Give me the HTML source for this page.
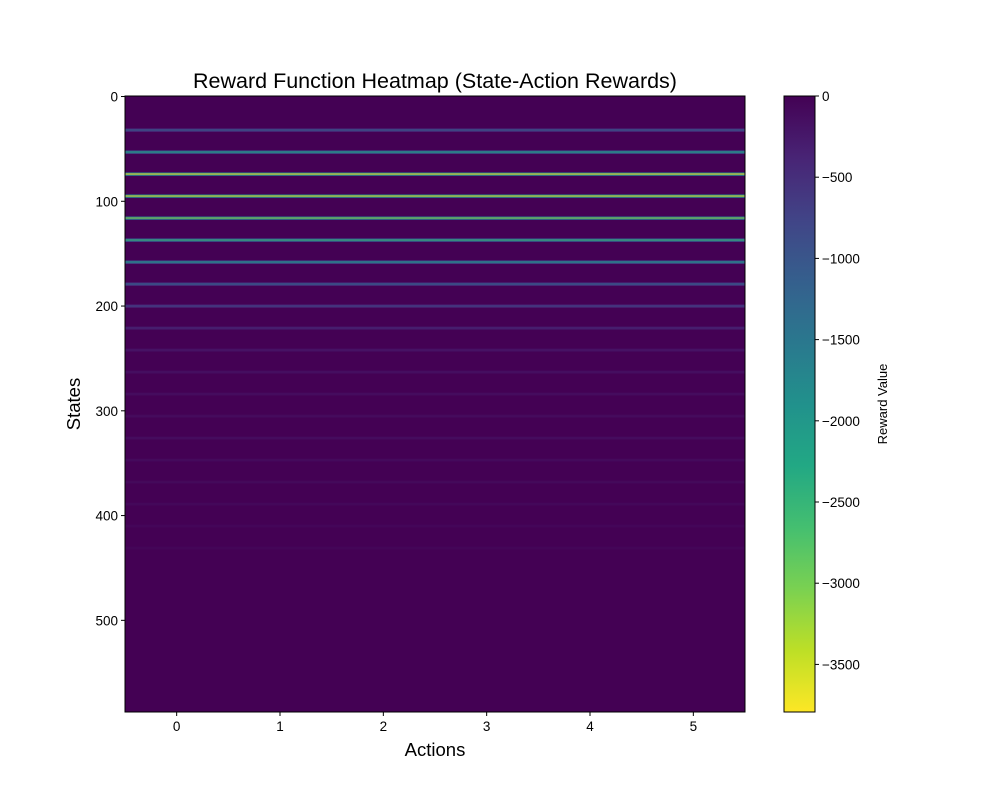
<!DOCTYPE html>
<html><head><meta charset="utf-8"><style>
body{margin:0;background:#fff;}
svg{display:block;font-family:"Liberation Sans","DejaVu Sans",sans-serif;}
</style></head><body>
<svg id="chart" width="1000" height="800" viewBox="0 0 1000 800" xmlns="http://www.w3.org/2000/svg">
<rect width="1000" height="800" fill="#fff"/>
<defs><linearGradient id="cbgrad" x1="0" y1="0" x2="0" y2="1"></linearGradient></defs>
<g id="heat"></g>
<g id="axes"></g>
<g id="cbar"></g>
<text x="435" y="88" font-size="21.5" text-anchor="middle">Reward Function Heatmap (State-Action Rewards)</text>
<text x="435" y="756" font-size="18.5" text-anchor="middle">Actions</text>
<text x="80" y="404" font-size="18.5" text-anchor="middle" transform="rotate(-90 80 404)">States</text>
<text x="887" y="404" font-size="13" text-anchor="middle" transform="rotate(-90 887 404)">Reward Value</text>
</svg>
<script>
const actions = [0,1,2,3,4,5];
const nStates = 588;
const stripeStates = [32,53,74,95,116,137,158,179,200,221,242,263,284,305,326,347,368,389,410,431];
const stripeValues = [-1100,-2200,-3750,-3650,-3100,-2500,-2000,-1200,-800,-450,-260,-200,-170,-150,-170,-140,-130,-120,-90,-80];
const stripeEdgeValues = [-500,-1000,-1700,-1650,-1400,-1100,-900,-550,-350,-200,-110,-90,-70,-60,-70,-55,-50,-45,-35,-30];
const xTicks = [0,1,2,3,4,5];
const yTicks = [0,100,200,300,400,500];
const cbTicks = [0,-500,-1000,-1500,-2000,-2500,-3000,-3500];
const vmin = -3793, vmax = 0;

const L=125,R=745,T=96,B=712;
const xs = a => L + (a+0.5)/6*(R-L);
const ys = s => T + (s+0.5)/nStates*(B-T);
const cellH = (B-T)/nStates;
const vir = ["#440154","#482475","#414487","#355f8d","#2a788e","#21918c","#22a884","#44bf70","#7ad151","#bddf26","#fde725"];
function hex(c){return [1,3,5].map(i=>parseInt(c.substr(i,2),16));}
function color(v){
  let t=(v-vmax)/(vmin-vmax); t=Math.max(0,Math.min(1,t));
  const p=t*10, i=Math.min(9,Math.floor(p)), f=p-i;
  const a=hex(vir[i]), b=hex(vir[i+1]);
  return "rgb("+a.map((x,k)=>Math.round(x+(b[k]-x)*f)).join(",")+")";
}
const NS="http://www.w3.org/2000/svg";
function mk(tag,attrs,parent){const e=document.createElementNS(NS,tag);for(const k in attrs)e.setAttribute(k,attrs[k]);parent.appendChild(e);return e;}

const rewards = new Array(nStates).fill(0);
stripeStates.forEach((s,i)=>{rewards[s]=stripeValues[i];rewards[s-1]=stripeEdgeValues[i];rewards[s+1]=stripeEdgeValues[i];});

const heat=document.getElementById('heat');
const bg=mk('rect',{x:L,y:T,width:R-L,height:B-T,fill:color(0)},heat);


rewards.forEach((v,s)=>{
  if(v===0) return;
  const r=mk('rect',{x:L,y:ys(s)-cellH/2,width:R-L,height:cellH+0.2,fill:color(v)},heat);
  
  
});

const ax=document.getElementById('axes');
const fr=mk('rect',{x:L,y:T,width:R-L,height:B-T,fill:'none',stroke:'#000','stroke-width':1},ax);


xTicks.forEach(t=>{
  const x=xs(t);
  mk('line',{x1:x,x2:x,y1:B,y2:B+4,stroke:'#000'},ax);
  const tx=mk('text',{x:x,y:B+19,'font-size':13.5,'text-anchor':'middle'},ax);
  tx.textContent=t;
  
  
});
yTicks.forEach(t=>{
  mk('line',{x1:L-4,x2:L,y1:ys(t),y2:ys(t),stroke:'#000'},ax);
  const tx=mk('text',{x:L-7,y:ys(t)+5,'font-size':13.5,'text-anchor':'end'},ax);
  tx.textContent=t;
  
  
});

const g=document.getElementById('cbgrad');
for(let i=0;i<=20;i++){const v=vmax+(vmin-vmax)*i/20;mk('stop',{offset:(i/20),'stop-color':color(v)},g);}
const cb=document.getElementById('cbar');
const CL=784,CR=815;
const cy=v=>T+(v-vmax)/(vmin-vmax)*(B-T);
const cr=mk('rect',{x:CL,y:T,width:CR-CL,height:B-T,fill:'url(#cbgrad)',stroke:'#000','stroke-width':1},cb);


cbTicks.forEach(t=>{
  const y=cy(t);
  mk('line',{x1:CR,x2:CR+4,y1:y,y2:y,stroke:'#000'},cb);
  const tx=mk('text',{x:CR+7,y:y+5,'font-size':13.5},cb);
  tx.textContent=t===0?'0':'\u2212'+Math.abs(t);
  
  
});
</script>
</body></html>
